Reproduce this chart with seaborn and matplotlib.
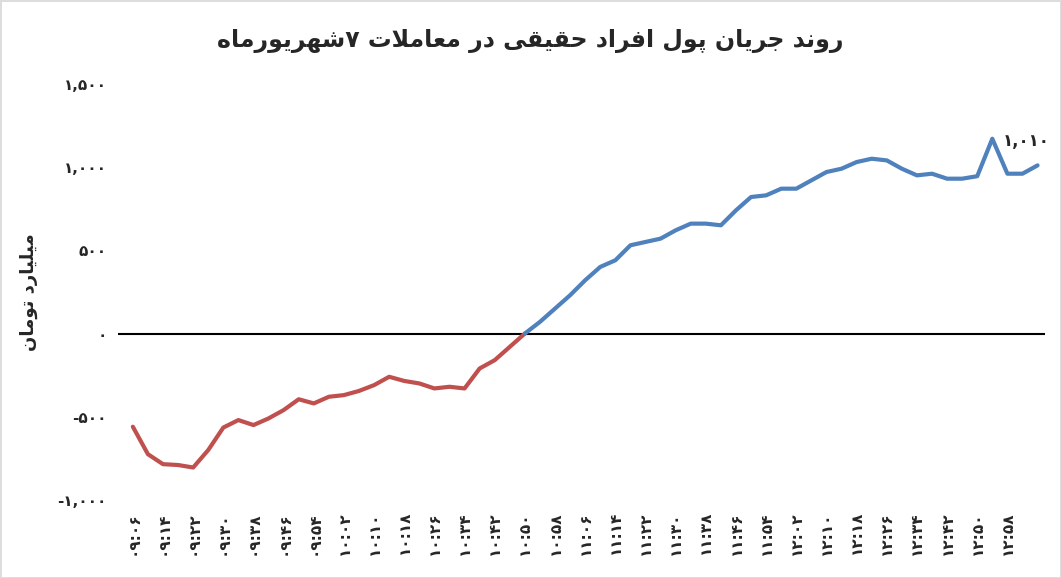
import numpy as np
import pandas as pd
import seaborn as sns
from matplotlib import pyplot as plt

# minutes after 09:06, sampled every 4 minutes
minutes = list(range(0, 244, 4))
flow = [-560, -725, -785, -790, -805, -700, -565, -520, -550, -510,
        -460, -395, -420, -380, -370, -345, -310, -260, -285, -300,
        -330, -320, -330, -210, -160, -80, 0, 70, 150, 230,
        320, 400, 440, 530, 550, 570, 620, 660, 660, 650,
        740, 820, 830, 870, 870, 920, 970, 990, 1030, 1050,
        1040, 990, 950, 960, 930, 930, 945, 1170, 960, 960,
        1010]
tick_minutes = list(range(0, 233, 8))
y_ticks = [-1000, -500, 0, 500, 1000, 1500]
title = "روند جریان پول افراد حقیقی در معاملات ۷شهریورماه"
ylabel = "میلیارد تومان"
last_label = "1,010"

FA = str.maketrans("0123456789", "۰۱۲۳۴۵۶۷۸۹")

# minimal arabic shaping: iso, fin, ini, med
FORMS = {
    'ا': (0xFE8D, 0xFE8E, None, None), 'د': (0xFEA9, 0xFEAA, None, None),
    'ر': (0xFEAD, 0xFEAE, None, None), 'و': (0xFEED, 0xFEEE, None, None),
    'ن': (0xFEE5, 0xFEE6, 0xFEE7, 0xFEE8), 'ج': (0xFE9D, 0xFE9E, 0xFE9F, 0xFEA0),
    'ی': (0xFBFC, 0xFBFD, 0xFBFE, 0xFBFF), 'پ': (0xFB56, 0xFB57, 0xFB58, 0xFB59),
    'ل': (0xFEDD, 0xFEDE, 0xFEDF, 0xFEE0), 'ف': (0xFED1, 0xFED2, 0xFED3, 0xFED4),
    'ح': (0xFEA1, 0xFEA2, 0xFEA3, 0xFEA4), 'ق': (0xFED5, 0xFED6, 0xFED7, 0xFED8),
    'ع': (0xFEC9, 0xFECA, 0xFECB, 0xFECC), 'م': (0xFEE1, 0xFEE2, 0xFEE3, 0xFEE4),
    'ت': (0xFE95, 0xFE96, 0xFE97, 0xFE98), 'ش': (0xFEB5, 0xFEB6, 0xFEB7, 0xFEB8),
    'ه': (0xFEE9, 0xFEEA, 0xFEEB, 0xFEEC),
}


def shape(s):
    out = []
    i = 0
    while i < len(s):
        c = s[i]
        if c not in FORMS:
            out.append(c)
            i += 1
            continue
        prev = s[i - 1] if i > 0 else ''
        joins_prev = prev in FORMS and FORMS[prev][2] is not None
        if c == 'ل' and i + 1 < len(s) and s[i + 1] == 'ا':
            out.append(chr(0xFEFC if joins_prev else 0xFEFB))
            i += 2
            continue
        nxt = s[i + 1] if i + 1 < len(s) else ''
        joins_next = FORMS[c][2] is not None and nxt in FORMS
        iso, fin, ini, med = FORMS[c]
        if joins_prev and joins_next:
            code = med
        elif joins_prev:
            code = fin
        elif joins_next:
            code = ini
        else:
            code = iso
        out.append(chr(code))
        i += 1
    return ''.join(out)[::-1]


def t(m):
    h, mm = divmod(9 * 60 + 6 + m, 60)
    return f"{h:02d}:{mm:02d}".translate(FA)


sns.set_style("white")
plt.rcParams['font.family'] = ['DejaVu Sans']

df = pd.DataFrame({"minute": minutes, "flow": flow})
neg = df[df.flow <= 0]
pos = df[df.flow >= 0]

fig = plt.figure(figsize=(10.61, 5.78), dpi=100)
ax = fig.add_axes([0.111, 0.135, 0.874, 0.72])
ax.axhline(0, color='black', lw=1.5)
sns.lineplot(data=neg, x="minute", y="flow", color='#C0504D', lw=3, ax=ax)
sns.lineplot(data=pos, x="minute", y="flow", color='#4F81BD', lw=3, ax=ax)

ax.set_xlim(-4, 242)
ax.set_ylim(-1000, 1500)
ax.set_xticks(tick_minutes)
ax.set_xticklabels([t(m) for m in tick_minutes], rotation=90, fontsize=11, fontweight='bold')
ax.set_yticks(y_ticks)
ax.set_yticklabels([f"{v:,}".translate(FA) for v in y_ticks], fontsize=11, fontweight='bold')
ax.tick_params(length=0, pad=8)
for s in ax.spines.values():
    s.set_visible(False)
ax.set_xlabel("")
ax.set_ylabel(shape(ylabel), fontsize=13, fontweight='bold', labelpad=14)
ax.text(minutes[-1] - 3, flow[-1] + 90, last_label.translate(FA), ha='center', va='bottom',
        fontsize=12, fontweight='bold')
fig.suptitle(shape(title), y=0.95, fontsize=17, fontweight='bold')

fig.patch.set_edgecolor('#dddddd')
fig.patch.set_linewidth(2)
fig.savefig("out.png", dpi=100)
